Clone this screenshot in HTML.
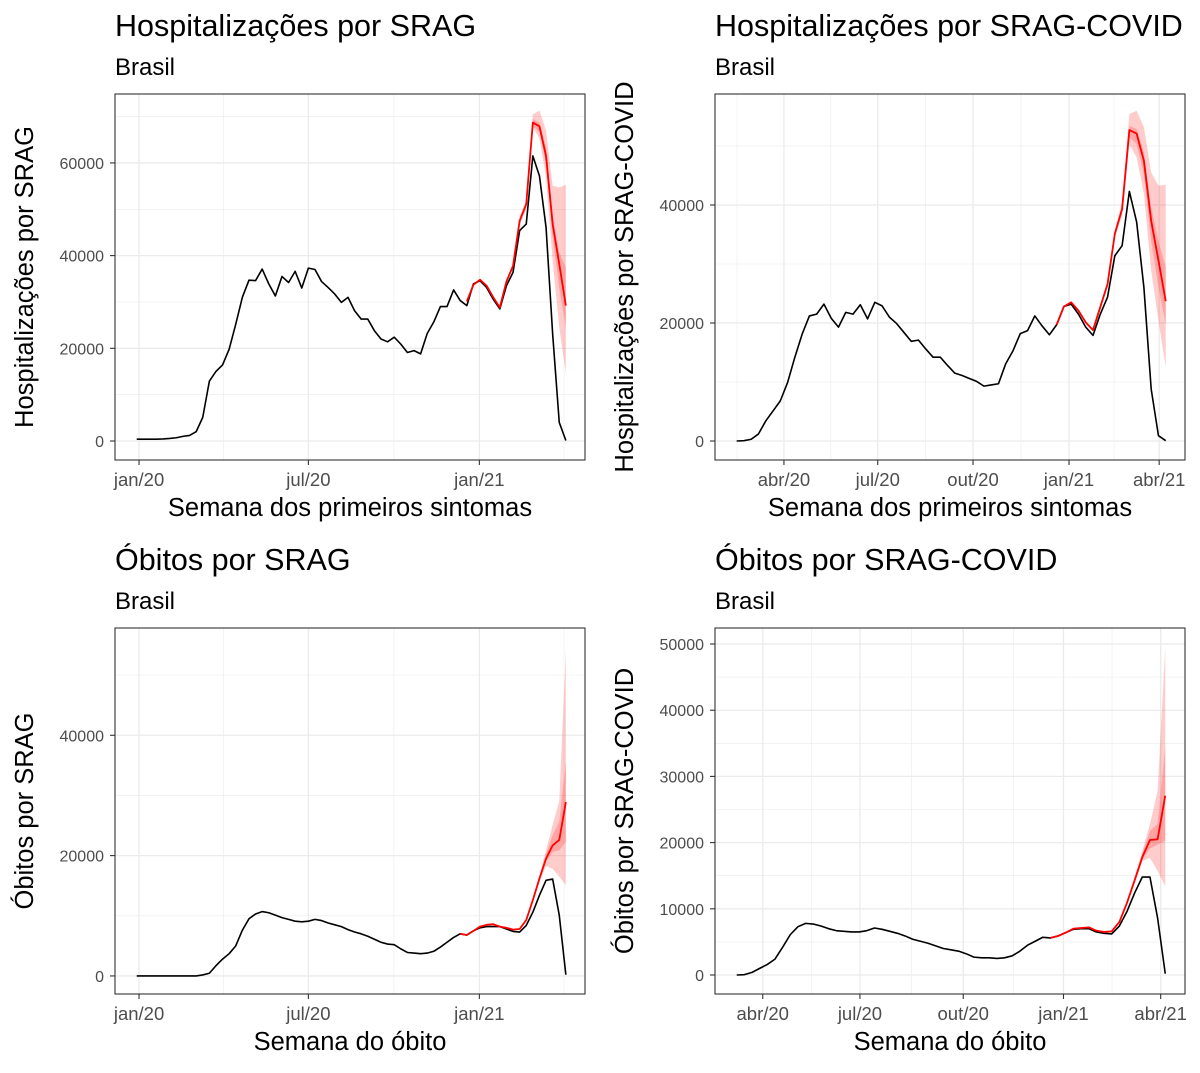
<!DOCTYPE html>
<html><head><meta charset="utf-8">
<style>
body{margin:0;background:#fff;}
svg text{font-family:"Liberation Sans",Arial,sans-serif;}
</style></head>
<body>
<svg id="chart" width="1200" height="1068" viewBox="0 0 1200 1068" xmlns="http://www.w3.org/2000/svg"></svg>
<script>
// ---------- Panel 1: Hospitalizações por SRAG ----------
const p1Observed = [400,400,400,400,450,550,700,1000,1200,2000,5100,12900,15000,16400,19800,25200,31000,34700,34600,37100,33900,31300,35500,34200,36600,33000,37300,37000,34400,33100,31700,29900,31000,28100,26300,26300,23800,22000,21400,22400,20900,19100,19500,18800,23200,25700,29000,29000,32600,30300,29200,33900,34600,33100,30600,28500,33500,36400,45400,46800,61500,57200,46100,23100,4000,100];
const p1Estimate = [30100,33700,34800,33500,31000,28800,34400,37800,47500,51100,68700,67900,61500,46800,38200,29200];
const p1EstStart = 50;
const p1OuterHi = [48500,52000,70500,71300,67000,55100,54700,55300];
const p1OuterLo = [46500,50000,67700,65300,56900,38900,24500,14500];
const p1InnerHi = [48000,51500,69500,68700,63300,48900,40700,37500];
const p1InnerLo = [47000,50600,68100,66600,59800,43900,33100,24500];
const p1BandStart = 58;
const p1YTicks = [0,20000,40000,60000];
const p1XTickLabels = ["jan/20","jul/20","jan/21"];
const p1XTickWeeks = [0.35,26,51.9];

// ---------- Panel 2: Hospitalizações por SRAG-COVID ----------
const p2Observed = [0,50,300,1200,3400,5100,6800,9900,14200,18100,21200,21500,23200,20800,19300,21800,21500,23100,20700,23500,22900,21000,19900,18400,16900,17100,15600,14200,14200,12800,11500,11100,10600,10100,9300,9500,9700,13100,15300,18200,18700,21200,19500,18000,19700,22800,23200,21500,19300,17900,21500,24400,31400,33100,42300,37100,26000,8800,900,50];
const p2Estimate = [19700,22800,23500,22100,20100,18800,22700,26600,35100,39300,52700,52100,47500,37300,30600,23700];
const p2EstStart = 44;
const p2OuterHi = [35800,40500,55400,56000,53200,45500,43300,43400];
const p2OuterLo = [34500,38200,50300,48100,41900,28900,20400,12500];
const p2InnerHi = [35300,39800,53400,52900,48900,39600,33900,29400];
const p2InnerLo = [34900,38800,51500,50300,45200,33900,26100,19800];
const p2BandStart = 52;
const p2YTicks = [0,20000,40000];
const p2XTickLabels = ["abr/20","jul/20","out/20","jan/21","abr/21"];
const p2XTickWeeks = [6.5,19.4,32.5,45.7,58.1];

// ---------- Panel 3: Óbitos por SRAG ----------
const p3Observed = [0,0,0,0,0,0,0,0,0,0,170,450,1700,2800,3700,5000,7600,9500,10300,10700,10500,10100,9700,9400,9100,9000,9100,9400,9200,8800,8500,8200,7700,7300,7000,6600,6100,5600,5300,5200,4500,3900,3800,3700,3800,4100,4800,5600,6400,7000,6800,7500,8000,8200,8200,8200,7800,7400,7300,8400,10600,13400,15900,16100,10100,200];
const p3Estimate = [7000,6800,7500,8200,8500,8600,8200,8000,7700,7800,9300,12600,16200,19500,21700,22600,28900];
const p3EstStart = 49;
const p3OuterHi = [12900,16700,20900,25100,29000,54000];
const p3OuterLo = [12300,15600,18300,17800,16500,15100];
const p3InnerHi = [12700,16400,20200,23400,25600,35600];
const p3InnerLo = [12500,16000,19000,20600,20900,22300];
const p3BandStart = 60;
const p3YTicks = [0,20000,40000];
const p3XTickLabels = ["jan/20","jul/20","jan/21"];
const p3XTickWeeks = [0.35,26,51.9];

// ---------- Panel 4: Óbitos por SRAG-COVID ----------
const p4Observed = [0,50,400,1000,1600,2400,4200,6100,7300,7800,7700,7400,7000,6700,6600,6500,6500,6700,7100,6900,6600,6300,5900,5400,5100,4800,4400,4000,3800,3600,3200,2700,2600,2600,2500,2600,2900,3600,4500,5100,5700,5600,5900,6400,6900,7000,7000,6500,6300,6200,7400,9600,12400,14800,14800,8600,200];
const p4Estimate = [5600,5900,6400,7000,7100,7200,6700,6500,6600,8000,10900,14300,17800,20400,20500,27100];
const p4EstStart = 41;
const p4OuterHi = [11100,14800,18700,22800,27800,49500];
const p4OuterLo = [10700,13900,17200,17700,15700,13400];
const p4InnerHi = [11000,14500,18300,21800,22800,34400];
const p4InnerLo = [10800,14100,17500,19100,19700,20300];
const p4BandStart = 51;
const p4YTicks = [0,10000,20000,30000,40000,50000];
const p4XTickLabels = ["abr/20","jul/20","out/20","jan/21","abr/21"];
const p4XTickWeeks = [3.4,16.1,29.6,42.7,55.4];

const NS = "http://www.w3.org/2000/svg";
const svg = document.getElementById("chart");
function mk(tag, attrs, parent){
  const e = document.createElementNS(NS, tag);
  for (const k in attrs) e.setAttribute(k, attrs[k]);
  (parent||svg).appendChild(e);
  return e;
}
function fmt(v){ return String(v); }

function drawPanel(cfg){
  const g = mk("g", {});
  
  
  const L=cfg.left, T=cfg.top, W=470, H=366;
  const xs = w => L + (w - cfg.xMin) / (cfg.xMax - cfg.xMin) * W;
  const ys = v => T + H - (v - cfg.yMin) / (cfg.yMax - cfg.yMin) * H;

  for (let i=0;i<cfg.xTickWeeks.length-1;i++){
    const m=(cfg.xTickWeeks[i]+cfg.xTickWeeks[i+1])/2;
    const l = mk("line",{x1:xs(m),x2:xs(m),y1:T,y2:T+H,stroke:"#ebebeb","stroke-width":0.6},g);
    
    
  }
  const stepX = cfg.xTickWeeks[1]-cfg.xTickWeeks[0];
  [cfg.xTickWeeks[0]-stepX/2, cfg.xTickWeeks[cfg.xTickWeeks.length-1]+stepX/2].forEach(m=>{
    if (xs(m)>L && xs(m)<L+W){
      const l = mk("line",{x1:xs(m),x2:xs(m),y1:T,y2:T+H,stroke:"#ebebeb","stroke-width":0.6},g);
      
      
    }
  });
  const stepY = cfg.yTicks[1]-cfg.yTicks[0];
  for (let v=cfg.yTicks[0]-stepY/2; v<cfg.yMax; v+=stepY){
    if (v<cfg.yMin) continue;
    const l = mk("line",{x1:L,x2:L+W,y1:ys(v),y2:ys(v),stroke:"#ebebeb","stroke-width":0.6},g);
    
    
  }
  cfg.xTickWeeks.forEach((w,i)=>{
    const l = mk("line",{x1:xs(w),x2:xs(w),y1:T,y2:T+H,stroke:"#ebebeb","stroke-width":1.3},g);
    
    
    const t = mk("line",{x1:xs(w),x2:xs(w),y1:T+H,y2:T+H+5,stroke:"#333","stroke-width":1.1},g);
    
    
    const tx = mk("text",{x:xs(w),y:T+H+26,"text-anchor":"middle","font-size":18.5,fill:"#4d4d4d"},g);
    tx.textContent = cfg.xTickLabels[i];
    
    
  });
  cfg.yTicks.forEach(v=>{
    const l = mk("line",{x1:L,x2:L+W,y1:ys(v),y2:ys(v),stroke:"#ebebeb","stroke-width":1.3},g);
    
    
    const t = mk("line",{x1:L-5,x2:L,y1:ys(v),y2:ys(v),stroke:"#333","stroke-width":1.1},g);
    
    
    const tx = mk("text",{x:L-11,y:ys(v)+6,"text-anchor":"end","font-size":16,fill:"#4d4d4d"},g);
    tx.textContent = fmt(v);
    
    
  });

  function band(hi, lo, name){
    let d="";
    hi.forEach((v,i)=>{ d += (i?"L":"M")+xs(cfg.bandStart+i)+","+ys(v); });
    for (let i=lo.length-1;i>=0;i--) d += "L"+xs(cfg.bandStart+i)+","+ys(lo[i]);
    const p = mk("path",{d:d+"Z",fill:"rgba(255,0,0,0.2)",stroke:"none"},g);
    
    
  }
  band(cfg.outerHi, cfg.outerLo, 'outer-interval-band');
  band(cfg.innerHi, cfg.innerLo, 'inner-interval-band');

  let d="";
  cfg.observed.forEach((v,i)=>{ d += (i?"L":"M")+xs(i)+","+ys(v); });
  const obs = mk("path",{d:d,fill:"none",stroke:"#000","stroke-width":1.6,"stroke-linejoin":"round"},g);
  
  
  d="";
  cfg.estimate.forEach((v,i)=>{ d += (i?"L":"M")+xs(cfg.estStart+i)+","+ys(v); });
  const est = mk("path",{d:d,fill:"none",stroke:"#ff0000","stroke-width":1.8,"stroke-linejoin":"round"},g);
  
  

  const frame = mk("rect",{x:L,y:T,width:W,height:H,fill:"none",stroke:"#333","stroke-width":1.1},g);
  
  

  const title = mk("text",{x:L,y:T-58,"font-size":30.5,fill:"#000"},g);
  title.textContent = cfg.title;
  
  
  const sub = mk("text",{x:L,y:T-19,"font-size":24,fill:"#000"},g);
  sub.textContent = "Brasil";
  
  
  const xt = mk("text",{x:L+W/2,y:T+H+56,"text-anchor":"middle","font-size":25.5,fill:"#000"},g);
  xt.textContent = cfg.xTitle;
  
  
  const yx = cfg.yTitleX, yy = T+H/2;
  const yt = mk("text",{x:yx,y:yy,"text-anchor":"middle","font-size":25.5,fill:"#000",transform:"rotate(-90 "+yx+" "+yy+")"},g);
  yt.textContent = cfg.yTitle;
  
  
}

drawPanel({name:'panel-hosp-srag',left:115,top:94,xMin:-3.29,xMax:67.9,yMin:-4100,yMax:74870,
  observed:p1Observed,estimate:p1Estimate,estStart:p1EstStart,outerHi:p1OuterHi,outerLo:p1OuterLo,innerHi:p1InnerHi,innerLo:p1InnerLo,bandStart:p1BandStart,
  yTicks:p1YTicks,xTickLabels:p1XTickLabels,xTickWeeks:p1XTickWeeks,title:"Hospitalizações por SRAG",xTitle:"Semana dos primeiros sintomas",yTitle:"Hospitalizações por SRAG",yTitleX:33});
drawPanel({name:'panel-hosp-srag-covid',left:715,top:94,xMin:-2.98,xMax:61.65,yMin:-3220,yMax:58810,
  observed:p2Observed,estimate:p2Estimate,estStart:p2EstStart,outerHi:p2OuterHi,outerLo:p2OuterLo,innerHi:p2InnerHi,innerLo:p2InnerLo,bandStart:p2BandStart,
  yTicks:p2YTicks,xTickLabels:p2XTickLabels,xTickWeeks:p2XTickWeeks,title:"Hospitalizações por SRAG-COVID",xTitle:"Semana dos primeiros sintomas",yTitle:"Hospitalizações por SRAG-COVID",yTitleX:633});
drawPanel({name:'panel-obitos-srag',left:115,top:628,xMin:-3.29,xMax:67.9,yMin:-3000,yMax:57830,
  observed:p3Observed,estimate:p3Estimate,estStart:p3EstStart,outerHi:p3OuterHi,outerLo:p3OuterLo,innerHi:p3InnerHi,innerLo:p3InnerLo,bandStart:p3BandStart,
  yTicks:p3YTicks,xTickLabels:p3XTickLabels,xTickWeeks:p3XTickWeeks,title:"Óbitos por SRAG",xTitle:"Semana do óbito",yTitle:"Óbitos por SRAG",yTitleX:33});
drawPanel({name:'panel-obitos-srag-covid',left:715,top:628,xMin:-2.84,xMax:58.58,yMin:-2870,yMax:52420,
  observed:p4Observed,estimate:p4Estimate,estStart:p4EstStart,outerHi:p4OuterHi,outerLo:p4OuterLo,innerHi:p4InnerHi,innerLo:p4InnerLo,bandStart:p4BandStart,
  yTicks:p4YTicks,xTickLabels:p4XTickLabels,xTickWeeks:p4XTickWeeks,title:"Óbitos por SRAG-COVID",xTitle:"Semana do óbito",yTitle:"Óbitos por SRAG-COVID",yTitleX:633});
</script>
</body></html>
